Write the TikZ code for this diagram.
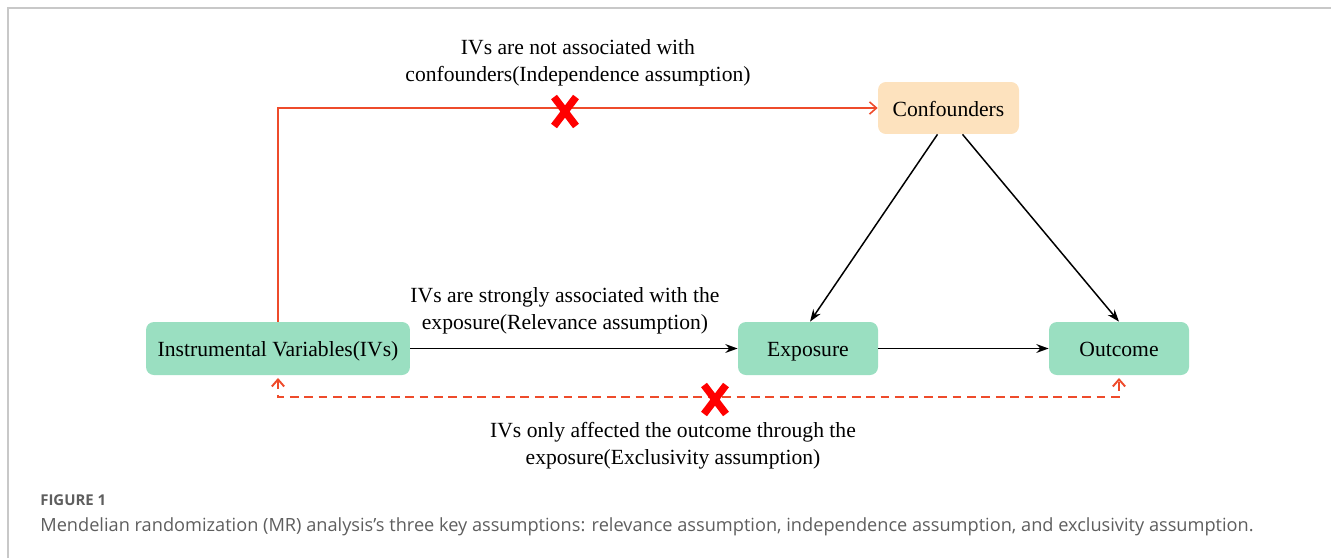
\documentclass[tikz,border=0pt]{standalone}
\usepackage{fontspec}
\setmainfont{Liberation Serif}
\setsansfont{Open Sans}
\usetikzlibrary{arrows.meta,positioning}
\definecolor{ivgreen}{HTML}{9ADFC1}
\definecolor{peach}{HTML}{FDE2BE}
\definecolor{linkred}{HTML}{EE4B2B}
\definecolor{crossred}{HTML}{FF0000}
\definecolor{framegrey}{HTML}{C8C8C8}
\definecolor{capgrey}{HTML}{5E5E5E}

\begin{document}
\begin{tikzpicture}[x=0.02cm,y=-0.02cm,
  box/.style={rounded corners=4.5pt,minimum height=1.06cm,inner sep=0pt,text height=10.2pt,text depth=1pt,font=\fontsize{12.3}{15}\selectfont},
  lab/.style={align=center,font=\fontsize{12.3}{15.3}\selectfont},
  arr/.style={line width=0.85pt,-{Stealth[length=7pt,width=5pt]}},
  redlink/.style={linkred,line width=0.9pt,-{Straight Barb[length=4pt,width=7pt]}},
  dashlink/.style={linkred,line width=1.1pt,dash pattern=on 5pt off 3.2pt,
    {Straight Barb[length=4pt,width=7pt]}-{Straight Barb[length=4pt,width=7pt]},shorten <=1.5pt,shorten >=1.5pt},
  cross/.style={crossred,line width=4.2pt}]
  \useasboundingbox (0,0) rectangle (1331,558);
  \draw[framegrey,line width=1.1pt] (8,558) -- (8,8) -- (1331,8);

  % the four boxes
  \node[box,fill=ivgreen,minimum width=5.28cm] (ivs) at (278,348.5) {Instrumental Variables(IVs)};
  \node[box,fill=ivgreen,minimum width=2.8cm] (expo) at (808,348.5) {Exposure};
  \node[box,fill=ivgreen,minimum width=2.8cm] (out) at (1119,348.5) {Outcome};
  \node[box,fill=peach,minimum width=2.82cm,minimum height=1.04cm] (conf) at (948.5,108) {Confounders};

  % assumptions
  \draw[arr] (ivs) -- (expo);
  \draw[arr] (expo) -- (out);
  \draw[arr] ([xshift=-0.22cm]conf.south) -- ([xshift=0.04cm]expo.north);
  \draw[arr] ([xshift=0.28cm]conf.south) -- (out.north);
  \draw[redlink] (ivs.north) |- (conf.west);
  \draw[dashlink] (ivs.south) -- ++(0,22) -| (out.south);

  \draw[cross] (554,97) -- (576,126) (576,97) -- (554,126);
  \draw[cross] (704,385) -- (726,414) (726,385) -- (704,414);

  \node[lab] (indep) at (578,62.5) {IVs are not associated with\\confounders(Independence assumption)};
  \node[lab] (relev) at (565,311) {IVs are strongly associated with the\\exposure(Relevance assumption)};
  \node[lab] (excl) at (673,446) {IVs only affected the outcome through the\\exposure(Exclusivity assumption)};

  % caption
  \node[anchor=west,inner sep=0pt,text=capgrey,font=\sffamily\bfseries\fontsize{8.5}{10}\selectfont] (fig) at (40,500) {FIGURE 1};
  \node[anchor=west,inner sep=0pt,text=capgrey,font=\sffamily\fontsize{10.35}{13}\selectfont] (cap) at (40,527) {Mendelian randomization (MR) analysis’s three key assumptions: relevance assumption, independence assumption, and exclusivity assumption.};
\end{tikzpicture}
\end{document}
